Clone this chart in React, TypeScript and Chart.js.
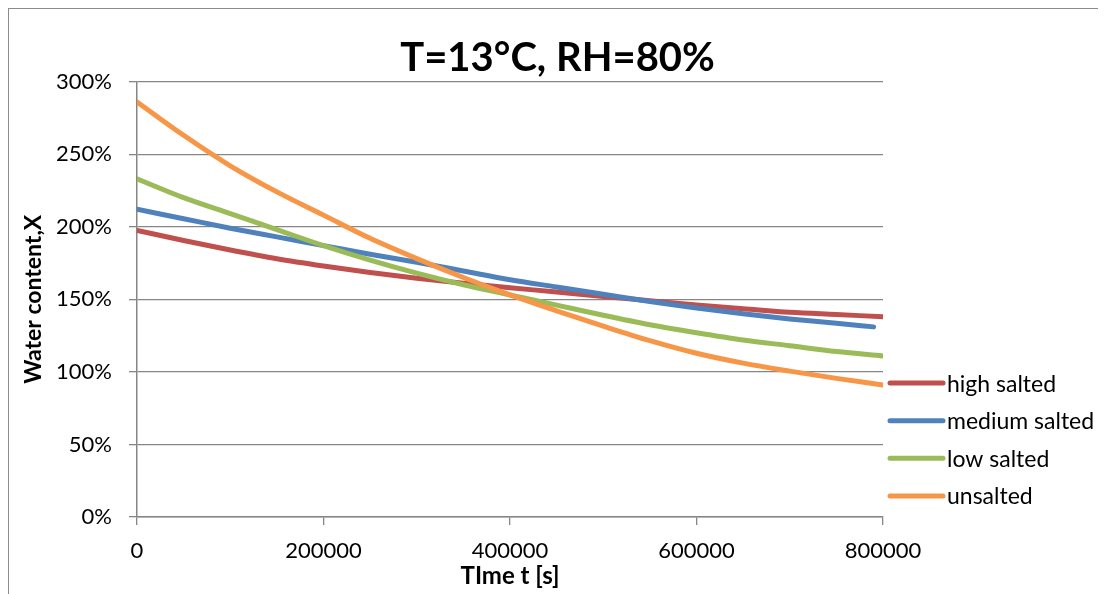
import React, { useEffect, useRef } from "react";
import { Chart, registerables } from "chart.js";

Chart.register(...registerables);

// Drying time in seconds
const timeS = [
  0, 50000, 100000, 150000, 200000, 250000, 300000, 350000, 400000,
  450000, 500000, 550000, 600000, 650000, 700000, 750000, 800000,
];
const mediumTimeS = [
  0, 50000, 100000, 150000, 200000, 250000, 300000, 350000, 400000,
  450000, 500000, 550000, 600000, 650000, 700000, 750000, 790000,
];

// Water content X in percent
const highSalted = [
  197.5, 190.5, 184, 178, 173, 168.5, 164.5, 161, 158,
  155, 152, 149, 146, 143.5, 141, 139.5, 138,
];
const mediumSalted = [
  212, 205.5, 199, 193, 187, 181, 175.5, 169.5, 163.5,
  158.5, 153.5, 148.5, 144, 140, 136.5, 133.5, 131,
];
const lowSalted = [
  233, 220, 209, 198, 187, 177, 168, 160, 153,
  146, 139, 132.5, 127, 122, 118, 114, 111,
];
const unsalted = [
  286, 263, 242, 224, 208, 192, 178, 165, 153,
  142, 131.5, 121.5, 112.8, 106, 100.5, 95.5, 91,
];

const seriesNames = ["high salted", "medium salted", "low salted", "unsalted"];
const seriesColors = ["#C0504D", "#4F81BD", "#9BBB59", "#F79646"];

const xTicks = [0, 200000, 400000, 600000, 800000];
const yTicks = [0, 50, 100, 150, 200, 250, 300];

const FONT = "Lato, 'Open Sans', sans-serif";
const GRID = "#868686";

function pairs(xs: number[], ys: number[]) {
  return xs.map((x, i) => ({ x, y: ys[i] }));
}

// Legend drawn at the right of the plot, lines with rounded caps
const sideLegend = {
  id: "sideLegend",
  afterDraw(chart: any) {
    const { ctx, chartArea } = chart;
    const x0 = chartArea.right + 7;
    const lineLen = 53;
    const startY = chartArea.top + 301.5;
    const step = 37.6;
    ctx.save();
    ctx.font = `23px ${FONT}`;
    ctx.textBaseline = "middle";
    ctx.textAlign = "left";
    chart.data.datasets.forEach((ds: any, i: number) => {
      const y = startY + i * step;
      ctx.strokeStyle = ds.borderColor;
      ctx.lineWidth = 5;
      ctx.lineCap = "round";
      ctx.beginPath();
      ctx.moveTo(x0, y);
      ctx.lineTo(x0 + lineLen, y);
      ctx.stroke();
      ctx.fillStyle = "#000";
      ctx.fillText(ds.label, x0 + lineLen + 4, y + 1);
    });
    ctx.restore();
  },
};

export default function App() {
  const canvasRef = useRef<HTMLCanvasElement | null>(null);

  useEffect(() => {
    if (!canvasRef.current) return;
    const valueSets = [highSalted, mediumSalted, lowSalted, unsalted];
    const timeSets = [timeS, mediumTimeS, timeS, timeS];
    const chart = new Chart(canvasRef.current, {
      type: "line",
      data: {
        datasets: valueSets.map((vals, i) => ({
          label: seriesNames[i],
          data: pairs(timeSets[i], vals),
          borderColor: seriesColors[i],
          backgroundColor: seriesColors[i],
          borderWidth: 5,
          borderCapStyle: "round",
          borderJoinStyle: "round",
          pointRadius: 0,
          cubicInterpolationMode: "monotone",
          fill: false,
          order: 4 - i,
        })),
      },
      options: {
        responsive: false,
        animation: false,
        layout: { padding: 0 },
        plugins: {
          legend: { display: false },
          tooltip: { enabled: false },
          title: {
            display: true,
            text: "T=13°C, RH=80%",
            color: "#000",
            font: { family: FONT, size: 40, weight: "bold", lineHeight: 1.2 },
            padding: { top: 24.6, bottom: 0 },
          },
        },
        scales: {
          x: {
            type: "linear",
            min: 0,
            max: 800000,
            afterBuildTicks: (scale: any) => {
              scale.ticks = xTicks.map((v) => ({ value: v }));
            },
            afterFit: (scale: any) => {
              scale.height = 77;
            },
            grid: {
              drawOnChartArea: false,
              drawTicks: true,
              tickLength: 8,
              color: GRID,
              lineWidth: 1.3,
            },
            border: { color: GRID, width: 1.5 },
            ticks: {
              color: "#000",
              font: { family: FONT, size: 22 },
              padding: 13,
              maxRotation: 0,
              callback: (v: any) => String(v),
            },
            title: {
              display: true,
              text: "TIme t [s]",
              color: "#000",
              font: { family: FONT, size: 24, weight: "bold", lineHeight: 1.2 },
              padding: { top: 0, bottom: 3 },
            },
          },
          y: {
            type: "linear",
            min: 0,
            max: 300,
            afterBuildTicks: (scale: any) => {
              scale.ticks = yTicks.map((v) => ({ value: v }));
            },
            afterFit: (scale: any) => {
              scale.width = 128;
            },
            grid: {
              drawOnChartArea: true,
              drawTicks: true,
              tickLength: 8,
              color: GRID,
              lineWidth: 1.3,
            },
            border: { color: GRID, width: 1.5 },
            ticks: {
              color: "#000",
              font: { family: FONT, size: 22 },
              padding: 17,
              callback: (v: any) => `${v}%`,
            },
            title: {
              display: true,
              text: "Water content,X",
              color: "#000",
              font: { family: FONT, size: 23, weight: "bold", lineHeight: 1.2 },
              padding: { top: 11, bottom: 0 },
            },
          },
          // empty band on the right that holds the legend
          legendBand: {
            type: "linear",
            position: "right",
            display: true,
            grid: { display: false, drawTicks: false },
            border: { display: false },
            ticks: { display: false },
            afterFit: (scale: any) => {
              scale.width = 223;
            },
          },
        },
      },
      plugins: [sideLegend],
    } as any);
    return () => chart.destroy();
  }, []);

  return (
    <div
      style={{
        width: 1097,
        height: 585,
        borderTop: "1px solid #8c8c8c",
        borderLeft: "1px solid #8c8c8c",
      }}
    >
      <canvas
        ref={canvasRef}
        width={1097}
        height={585}
        style={{ display: "block", width: 1097, height: 585 }}
      />
    </div>
  );
}
